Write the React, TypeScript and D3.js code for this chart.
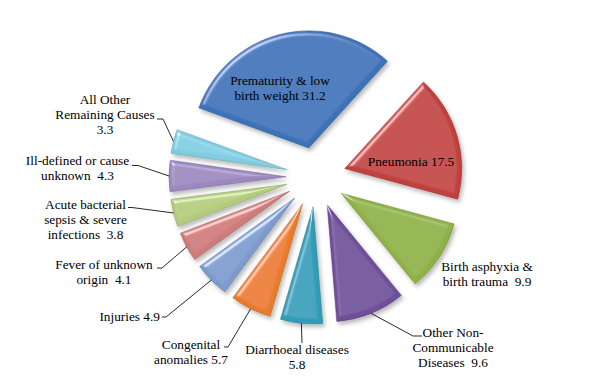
import React from "react";
import * as d3 from "d3";

const categories = [
  "Prematurity & low birth weight",
  "Pneumonia",
  "Birth asphyxia & birth trauma",
  "Other Non-Communicable Diseases",
  "Diarrhoeal diseases",
  "Congenital anomalies",
  "Injuries",
  "Fever of unknown origin",
  "Acute bacterial sepsis & severe infections",
  "Ill-defined or cause unknown",
  "All Other Remaining Causes",
];
const values = [31.2, 17.5, 9.9, 9.6, 5.8, 5.7, 4.9, 4.1, 3.8, 4.3, 3.3];
const colors = [
  "#3C72B8", "#C0413E", "#8FB144", "#6F4F99", "#2F9DB9", "#E97C2A",
  "#7D9BCC", "#CD7C7A", "#B2CB7D", "#9C88BF", "#82CCE0",
];
const labelLines = [
  ["Prematurity & low", "birth weight 31.2"],
  ["Pneumonia 17.5"],
  ["Birth asphyxia &", "birth trauma  9.9"],
  ["Other Non-", "Communicable", "Diseases  9.6"],
  ["Diarrhoeal diseases", "5.8"],
  ["Congenital", "anomalies 5.7"],
  ["Injuries 4.9"],
  ["Fever of unknown", "origin  4.1"],
  ["Acute bacterial", "sepsis & severe", "infections  3.8"],
  ["Ill-defined or cause", "unknown  4.3"],
  ["All Other", "Remaining Causes", "3.3"],
];

// layout (positions only)
const labelLayout: { x: number; y: number; anchor: string; leader: number[][] | null }[] = [
  { x: 280, y: 85, anchor: "middle", leader: null },
  { x: 411, y: 166, anchor: "middle", leader: null },
  { x: 487, y: 271, anchor: "middle", leader: null },
  { x: 453, y: 337, anchor: "middle", leader: [[413, 336], [422, 336]] },
  { x: 297, y: 354, anchor: "middle", leader: [[302, 343]] },
  { x: 191, y: 349, anchor: "middle", leader: [[228, 347], [224, 347]] },
  { x: 160, y: 321, anchor: "end", leader: [[166, 317], [162, 317]] },
  { x: 104, y: 269, anchor: "middle", leader: [[162, 268], [157, 268]] },
  { x: 85.5, y: 209, anchor: "middle", leader: [[132, 207.5], [128, 207.5]] },
  { x: 77.5, y: 165, anchor: "middle", leader: [[138, 165.5], [132, 165.5]] },
  { x: 105, y: 104, anchor: "middle", leader: [[163, 119], [157, 119]] },
];

const W = 597;
const H = 381;
const cx = 316;
const cy = 177;
const R = 117;
const explode = 30;
const lineH = 15;
const FONT = "'Liberation Serif', 'Times New Roman', Times, 'DejaVu Serif', serif";

export default function App() {
  const start = (-70 * Math.PI) / 180;
  const pie = d3
    .pie<number>()
    .sort(null)
    .value((d) => d)
    .startAngle(start)
    .endAngle(start + 2 * Math.PI);
  const arcs = pie(values);
  const arc = d3.arc<d3.PieArcDatum<number>>().innerRadius(0).outerRadius(R);

  return (
    <svg
      width={W}
      height={H}
      style={{ position: "absolute", left: 0, top: 0, background: "#fff" }}
    >
      <defs>
        <filter id="bevel" x="-15%" y="-15%" width="135%" height="135%">
          <feGaussianBlur in="SourceAlpha" stdDeviation="2" result="blur" />
          <feSpecularLighting
            in="blur"
            surfaceScale="4"
            specularConstant="1"
            specularExponent="22"
            lightingColor="#ffffff"
            result="spec"
          >
            <feDistantLight azimuth="235" elevation="35" />
          </feSpecularLighting>
          <feComposite in="spec" in2="SourceAlpha" operator="in" result="specIn" />
          <feComposite
            in="SourceGraphic"
            in2="specIn"
            operator="arithmetic"
            k1="0"
            k2="1"
            k3="0.55"
            k4="0"
            result="lit"
          />
          <feOffset in="SourceAlpha" dx="2" dy="2.5" result="off" />
          <feGaussianBlur in="off" stdDeviation="2" result="shadowBlur" />
          <feFlood floodColor="#000" floodOpacity="0.28" />
          <feComposite in2="shadowBlur" operator="in" result="shadow" />
          <feMerge>
            <feMergeNode in="shadow" />
            <feMergeNode in="lit" />
          </feMerge>
        </filter>
      </defs>
      <rect width={W} height={H} fill="#fff" />
      <g>
        {arcs.map((a, i) => {
          const mid = (a.startAngle + a.endAngle) / 2;
          const dx = Math.sin(mid) * explode;
          const dy = -Math.cos(mid) * explode;
          const base = d3.color(colors[i])!;
          return (
            <path
              key={categories[i]}
              d={arc(a) || ""}
              transform={`translate(${cx + dx},${cy + dy})`}
              fill={colors[i]}
              stroke={base.darker(0.6).formatHex()}
              strokeWidth={0.6}
              filter="url(#bevel)"
            />
          );
        })}
      </g>
      <g>
        {arcs.map((a, i) => {
          const lay = labelLayout[i];
          if (!lay.leader) return null;
          const mid = (a.startAngle + a.endAngle) / 2;
          const rr = R + explode;
          const p0 = [cx + Math.sin(mid) * rr, cy - Math.cos(mid) * rr];
          const pts = [p0, ...lay.leader];
          const line = d3.line()(pts as [number, number][]);
          return (
            <path key={"l" + i} d={line || ""} fill="none" stroke="#111" strokeWidth={0.9} />
          );
        })}
      </g>
      <g fill="#000">
        {labelLines.map((lines, i) => {
          const lay = labelLayout[i];
          return (
            <text
              key={"t" + i}
              x={lay.x}
              y={lay.y}
              textAnchor={lay.anchor}
              style={{ whiteSpace: "pre", fontFamily: FONT, fontSize: "13.3px" }}
            >
              {lines.map((ln, j) => (
                <tspan key={j} x={lay.x} y={lay.y + j * lineH}>
                  {ln}
                </tspan>
              ))}
            </text>
          );
        })}
      </g>
    </svg>
  );
}
